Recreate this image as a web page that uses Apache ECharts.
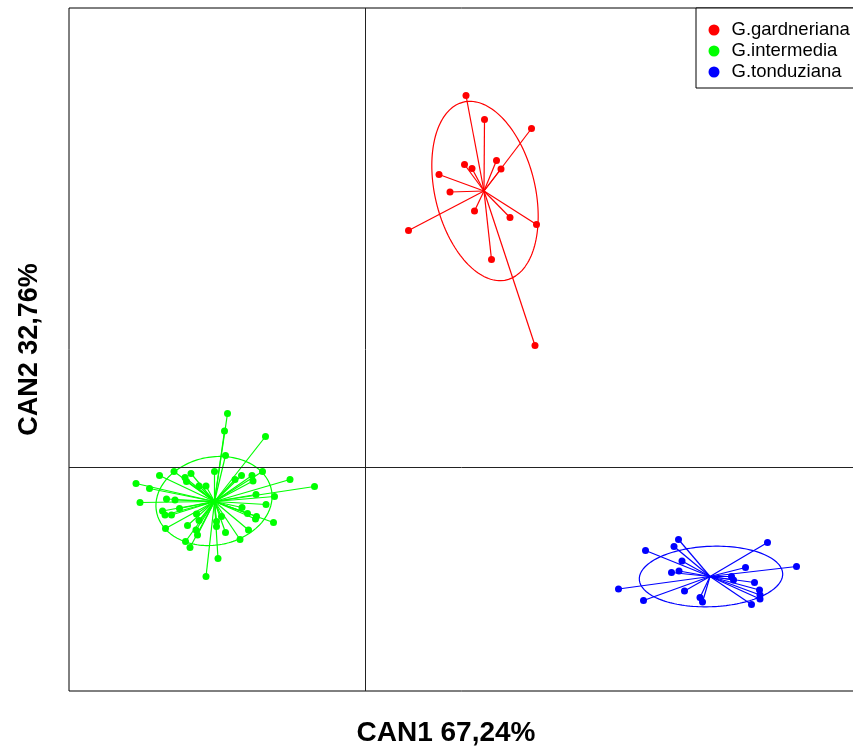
<!DOCTYPE html>
<html>
<head>
<meta charset="utf-8">
<script src="https://cdn.jsdelivr.net/npm/echarts@6/dist/echarts.min.js"></script>
<style>
html,body{margin:0;padding:0;background:#fff;}
#chart{width:853px;height:749px;}
</style>
</head>
<body>
<div id="chart"></div>
<script>
// ---- data (canonical scores, CAN1 / CAN2) ----
const groupNames = ['G.gardneriana', 'G.intermedia', 'G.tonduziana'];
const groupColors = ['#ff0000', '#00ff00', '#0000ff'];

const gardnerianaX = [2.02, 2.39, 3.33, 1.99, 2.14, 2.63, 2.72, 1.48, 1.70, 2.19, 2.90, 3.43, 0.87, 2.53, 3.40];
const gardnerianaY = [7.43, 6.95, 6.77, 6.05, 5.97, 6.13, 5.96, 5.85, 5.50, 5.12, 4.99, 4.85, 4.73, 4.15, 2.43];

const intermediaX = [-2.75, -2.81, -1.99, -2.79, -3.82, -3.48, -3.01, -3.60, -4.11, -2.47, -2.26, -2.05, -2.60,
  -2.24, -1.50, -4.58, -4.31, -3.57, -3.32, -3.18, -1.01, -2.18, -1.81, -3.97, -3.80, -4.50, -1.98, -3.71,
  -2.46, -4.05, -4.00, -3.87, -3.37, -2.35, -2.17, -2.19, -1.83, -3.32, -2.97, -2.87, -3.55, -2.97, -3.99,
  -2.33, -2.79, -3.35, -3.38, -3.59, -3.50, -2.50, -2.94, -3.18];
const intermediaY = [1.07, 0.72, 0.61, 0.23, -0.09, -0.13, -0.09, -0.21, -0.17, -0.17, -0.17, -0.09, -0.25,
  -0.28, -0.25, -0.33, -0.43, -0.29, -0.38, -0.38, -0.39, -0.55, -0.59, -0.64, -0.66, -0.71, -0.75, -0.83,
  -0.81, -0.88, -0.96, -0.96, -0.94, -0.93, -0.99, -1.04, -1.11, -1.07, -1.09, -0.99, -1.17, -1.19, -1.23,
  -1.26, -1.31, -1.36, -1.26, -1.49, -1.61, -1.45, -1.83, -2.19];

const tonduzianaX = [6.27, 6.18, 5.61, 8.05, 6.34, 7.61, 8.63, 6.28, 6.13, 7.33, 7.37, 7.79, 7.89, 5.07, 6.39,
  7.90, 7.90, 6.70, 6.75, 5.57, 7.73];
const tonduzianaY = [-1.45, -1.59, -1.67, -1.51, -1.88, -2.01, -1.99, -2.08, -2.11, -2.19, -2.26, -2.31, -2.46,
  -2.44, -2.48, -2.56, -2.64, -2.61, -2.70, -2.67, -2.75];

// group centroids
const centroidX = [2.38, -3.01, 6.90];
const centroidY = [5.52, -0.69, -2.19];

// confidence ellipses: centre, semi-axes, rotation of major axis (degrees)
const ellipseCX = [2.40, -3.02, 6.92];
const ellipseCY = [5.52, -0.68, -2.19];
const ellipseA = [1.83, 1.17, 1.435];
const ellipseB = [1.00, 0.88, 0.604];
const ellipseAngle = [103.7, 10.5, 2.3];

const axisTitleX = 'CAN1 67,24%';
const axisTitleY = 'CAN2 32,76%';

// ---- build ----
const groupX = [gardnerianaX, intermediaX, tonduzianaX];
const groupY = [gardnerianaY, intermediaY, tonduzianaY];
const FONT = '"Liberation Sans", Arial, sans-serif';

function ellipsePoints(g) {
  const pts = [];
  const n = 160;
  const t0 = ellipseAngle[g] * Math.PI / 180;
  for (let i = 0; i <= n; i++) {
    const t = 2 * Math.PI * i / n;
    const u = ellipseA[g] * Math.cos(t), v = ellipseB[g] * Math.sin(t);
    pts.push([ellipseCX[g] + u * Math.cos(t0) - v * Math.sin(t0),
              ellipseCY[g] + u * Math.sin(t0) + v * Math.cos(t0)]);
  }
  return pts;
}

const series = [];
groupNames.forEach((name, g) => {
  const color = groupColors[g];
  series.push({
    name: name, type: 'line', data: ellipsePoints(g), showSymbol: false, symbol: 'none',
    smooth: false, lineStyle: { color: color, width: 1.2 }, itemStyle: { color: color },
    silent: true, z: 2
  });
  series.push({
    name: name, type: 'lines', coordinateSystem: 'cartesian2d',
    data: groupX[g].map((x, i) => ({ coords: [[centroidX[g], centroidY[g]], [x, groupY[g][i]]] })),
    lineStyle: { color: color, width: 1.2, opacity: 1 }, itemStyle: { color: color },
    silent: true, z: 3
  });
  series.push({
    name: name, type: 'scatter', symbol: 'circle', symbolSize: 7,
    data: groupX[g].map((x, i) => [x, groupY[g][i]]),
    itemStyle: { color: color, opacity: 1 }, silent: true, z: 4
  });
});

// zero reference lines
series.push({
  name: 'zero', type: 'line', data: [], silent: true,
  markLine: {
    silent: true, symbol: ['none', 'none'], label: { show: false },
    lineStyle: { color: '#222', width: 1, type: 'solid' },
    data: [{ xAxis: 0 }, { yAxis: 0 }]
  }
});

const chart = echarts.init(document.getElementById('chart'), null, { renderer: 'canvas' });
chart.setOption({
  animation: false,
  backgroundColor: '#fff',
  grid: { left: 69, top: 8, right: -2, bottom: 58, show: true, borderColor: '#000', borderWidth: 1,
          backgroundColor: 'transparent', containLabel: false, outerBoundsMode: 'none' },
  xAxis: {
    type: 'value', min: -5.92, max: 9.8,
    axisLine: { show: false, onZero: false }, axisTick: { show: false }, axisLabel: { show: false }, splitLine: { show: false },
    name: axisTitleX, nameLocation: 'middle', nameGap: 28,
    nameTextStyle: { fontFamily: FONT, fontSize: 28, fontWeight: 'bold', color: '#000', padding: [0, 32, 0, 0] }
  },
  yAxis: {
    type: 'value', min: -4.48, max: 9.18,
    axisLine: { show: false, onZero: false }, axisTick: { show: false }, axisLabel: { show: false }, splitLine: { show: false },
    name: axisTitleY, nameLocation: 'middle', nameGap: 26,
    nameTextStyle: { fontFamily: FONT, fontSize: 27, fontWeight: 'bold', color: '#000' }
  },
  legend: {
    orient: 'vertical', left: 696, top: 8,
    padding: [12, 40, 6, 12.5],
    itemWidth: 11, itemHeight: 11, itemGap: 1,
    selectedMode: false,
    backgroundColor: '#fff', borderColor: '#000', borderWidth: 1,
    textStyle: { fontFamily: FONT, fontSize: 18.5, color: '#000', lineHeight: 20, padding: [0, 0, 0, 7] },
    data: groupNames.map(n => ({ name: n, icon: 'circle' }))
  },
  series: series
});
</script>
</body>
</html>
